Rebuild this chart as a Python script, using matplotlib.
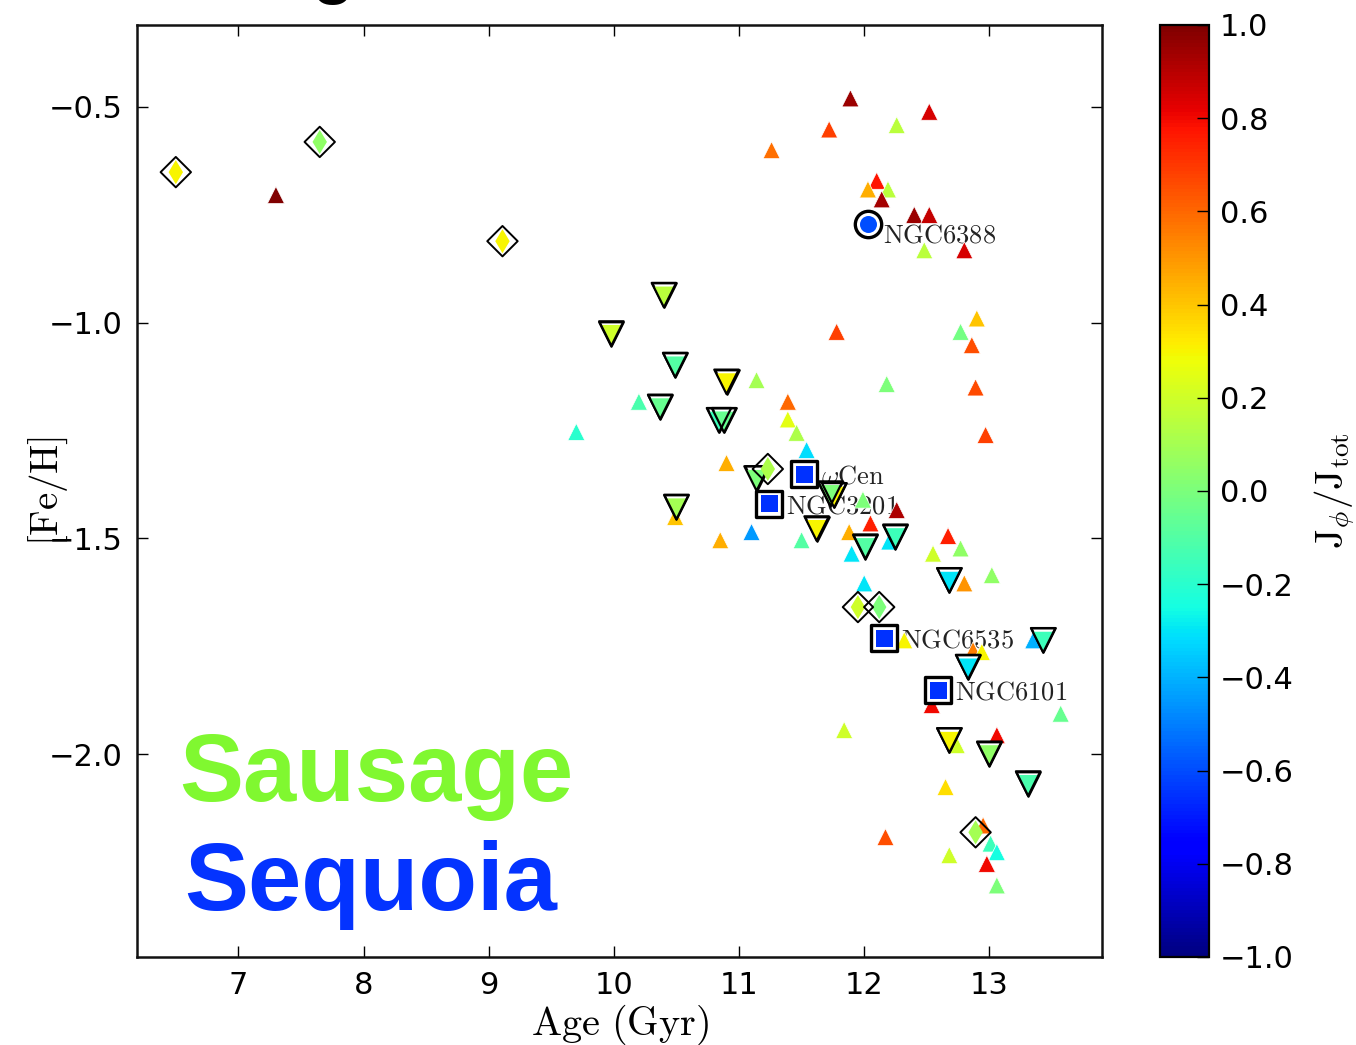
import numpy as np
import matplotlib
matplotlib.use("Agg")
import matplotlib.pyplot as plt
from matplotlib.colors import Normalize
from matplotlib.path import Path
from matplotlib.markers import MarkerStyle

plt.rcParams["mathtext.fontset"] = "cm"
plt.rcParams["font.family"] = ["DejaVu Sans"]

# ---- globular clusters: age (Gyr), [Fe/H], J_phi/J_tot ----
# in-situ / other clusters (small filled triangles)
tri_age = [7.30, 11.89, 12.52, 11.72, 12.26, 11.26, 12.10, 12.03, 12.19, 12.14,
           12.40, 12.52, 12.48, 12.80, 11.78, 12.77, 12.90, 12.86, 12.18, 12.89,
           12.97, 11.14, 10.20, 9.70, 11.39, 11.39, 11.46, 11.54, 10.90, 10.85,
           11.10, 11.50, 11.88, 12.05, 11.90, 12.26, 11.99, 12.20, 12.67, 12.55,
           12.77, 13.02, 12.80, 12.00, 12.32, 13.35, 12.87, 12.94, 12.54, 13.57,
           11.84, 13.06, 12.74, 12.65, 12.17, 12.95, 13.01, 13.06, 12.68, 12.98,
           13.06, 10.49]
tri_feh = [-0.704, -0.480, -0.511, -0.552, -0.542, -0.600, -0.671, -0.691, -0.691, -0.714,
           -0.750, -0.750, -0.832, -0.832, -1.021, -1.021, -0.990, -1.052, -1.142, -1.150,
           -1.260, -1.133, -1.183, -1.253, -1.183, -1.224, -1.255, -1.295, -1.325, -1.504,
           -1.485, -1.504, -1.485, -1.465, -1.535, -1.434, -1.410, -1.507, -1.494, -1.535,
           -1.523, -1.585, -1.604, -1.604, -1.736, -1.736, -1.759, -1.763, -1.886, -1.906,
           -1.944, -1.956, -1.979, -2.076, -2.192, -2.165, -2.207, -2.227, -2.234, -2.254,
           -2.304, -1.450]
tri_j = [1.00, 0.95, 0.85, 0.68, 0.15, 0.58, 0.78, 0.45, 0.15, 0.93,
         0.95, 0.88, 0.15, 0.85, 0.68, -0.02, 0.40, 0.65, 0.00, 0.66,
         0.68, 0.10, -0.12, -0.20, 0.60, 0.25, 0.12, -0.32, 0.45, 0.45,
         -0.45, -0.10, 0.45, 0.75, -0.30, 0.92, 0.00, -0.30, 0.75, 0.20,
         0.05, 0.05, 0.50, -0.30, 0.30, -0.40, 0.55, 0.30, 0.80, -0.05,
         0.20, 0.80, 0.20, 0.35, 0.65, 0.60, -0.15, -0.25, 0.20, 0.80,
         0.00, 0.40]

# Sausage clusters (open down triangles)
sau_age = [10.40, 9.98, 10.49, 10.90, 10.37, 10.84, 10.88, 10.50, 11.14, 11.76,
           11.73, 11.62, 12.01, 12.25, 12.68, 13.43, 12.83, 12.68, 13.00, 13.31]
sau_feh = [-0.936, -1.025, -1.098, -1.137, -1.195, -1.226, -1.226, -1.427, -1.361, -1.400,
           -1.396, -1.477, -1.519, -1.496, -1.597, -1.736, -1.798, -1.968, -1.999, -2.068]
sau_j = [0.15, 0.20, -0.10, 0.30, -0.05, -0.15, -0.05, 0.10, 0.00, 0.30,
         0.00, 0.30, -0.10, -0.15, -0.30, -0.15, -0.30, 0.30, 0.05, -0.12]

# Sagittarius-type clusters (open diamonds)
dia_age = [6.50, 7.65, 9.11, 11.23, 11.95, 12.12, 12.89]
dia_feh = [-0.651, -0.581, -0.811, -1.339, -1.659, -1.659, -2.181]
dia_j = [0.30, 0.05, 0.30, 0.12, 0.20, 0.00, 0.10]

# Sequoia clusters (squares) and the circled one
seq_names = [r"$\omega\mathrm{Cen}$", r"$\mathrm{NGC3201}$",
             r"$\mathrm{NGC6535}$", r"$\mathrm{NGC6101}$"]
seq_age = [11.52, 11.24, 12.16, 12.59]
seq_feh = [-1.351, -1.420, -1.731, -1.852]
seq_j = [-0.65, -0.65, -0.65, -0.65]

circ_name = r"$\mathrm{NGC6388}$"
circ_age = [12.03]
circ_feh = [-0.771]
circ_j = [-0.60]

x_ticks = [7, 8, 9, 10, 11, 12, 13]
y_ticks = [-2.0, -1.5, -1.0, -0.5]
cbar_ticks = [-1.0, -0.8, -0.6, -0.4, -0.2, 0.0, 0.2, 0.4, 0.6, 0.8, 1.0]

W, H = 1356, 1045
fig = plt.figure(figsize=(W / 100, H / 100), dpi=100)
ax = fig.add_axes([137 / W, 1 - 957 / H, 965 / W, 932 / H])
cax = fig.add_axes([1160 / W, 1 - 957 / H, 49 / W, 932 / H])

cmap = plt.get_cmap("jet")
norm = Normalize(vmin=-1, vmax=1)

# small triangles
sc = ax.scatter(tri_age, tri_feh, c=tri_j, cmap=cmap, norm=norm, marker="^",
                s=150, edgecolors="white", linewidths=0.5, zorder=2)

# down triangles: black outline, coloured fill sitting low inside it
inner_v = Path([(-0.80, 0.70), (0.80, 0.70), (0.0, -1.0), (-0.80, 0.70)],
               [Path.MOVETO, Path.LINETO, Path.LINETO, Path.CLOSEPOLY])
ax.scatter(sau_age, sau_feh, marker="v", s=310, facecolors="white",
           edgecolors="black", linewidths=1.6, zorder=3)
ax.scatter(sau_age, sau_feh, c=sau_j, cmap=cmap, norm=norm,
           marker=MarkerStyle(inner_v), s=310, linewidths=0, zorder=3.1)
ax.scatter(sau_age, sau_feh, marker="v", s=310, facecolors="none",
           edgecolors="black", linewidths=1.6, zorder=3.2)

# diamonds: thin coloured diamond inside an open black diamond
ax.scatter(dia_age, dia_feh, c=dia_j, cmap=cmap, norm=norm, marker="d",
           s=150, linewidths=0, zorder=4)
ax.scatter(dia_age, dia_feh, marker="D", s=240, facecolors="none",
           edgecolors="black", linewidths=1.4, zorder=4.1)

# squares
ax.scatter(seq_age, seq_feh, marker="s", s=330, facecolors="white",
           edgecolors="black", linewidths=2.4, zorder=5)
ax.scatter(seq_age, seq_feh, c=seq_j, cmap=cmap, norm=norm, marker="s",
           s=150, linewidths=0, zorder=5.1)

# circle
ax.scatter(circ_age, circ_feh, marker="o", s=360, facecolors="white",
           edgecolors="black", linewidths=2.4, zorder=5)
ax.scatter(circ_age, circ_feh, c=circ_j, cmap=cmap, norm=norm, marker="o",
           s=150, linewidths=0, zorder=5.1)

for name, a, f in zip(seq_names, seq_age, seq_feh):
    ax.annotate(name, (a, f), xytext=(12, -1.5), textcoords="offset points",
                ha="left", va="center", fontsize=19, color="#222222", zorder=1.5)
ax.annotate(circ_name, (circ_age[0], circ_feh[0]), xytext=(11, -8),
            textcoords="offset points", ha="left", va="center", fontsize=19,
            color="#222222", zorder=1.5)

ax.set_xlim(6.19, 13.90)
ax.set_ylim(-2.47, -0.31)
ax.set_xticks(x_ticks)
ax.set_yticks(y_ticks)
ax.tick_params(direction="in", top=True, right=True, length=8, width=1.0,
               labelsize=22, pad=10)
for sp in ax.spines.values():
    sp.set_linewidth(1.8)
    sp.set_color("#111111")

ax.set_xlabel(r"$\mathrm{Age\ (Gyr)}$", fontsize=29)
ax.xaxis.set_label_coords(0.5, -0.049)
ax.set_ylabel(r"$\mathrm{[Fe/H]}$", fontsize=28)
ax.yaxis.set_label_coords(-0.069, 0.5)

ax.text(0.044, 0.167, "Sausage", transform=ax.transAxes, ha="left",
        va="baseline", fontsize=69, fontweight="bold", color="#80F830",
        family="Liberation Sans", zorder=6)
ax.text(0.049, 0.050, "Sequoia", transform=ax.transAxes, ha="left",
        va="baseline", fontsize=69, fontweight="bold", color="#0433FF",
        family="Liberation Sans", zorder=6)

fig.text(333 / W, 1 + 12 / H, "g", ha="center", va="baseline", fontsize=58,
         family="Liberation Sans", color="black")

cb = fig.colorbar(sc, cax=cax, ticks=cbar_ticks)
cb.outline.set_linewidth(1.6)
cax.tick_params(direction="in", length=9, width=1.0, labelsize=22, pad=8)
cb.set_label(r"$\mathrm{J_\phi/J_{tot}}$", fontsize=28)
cax.yaxis.set_label_coords(3.1, 0.5)

fig.savefig("out.png", dpi=100)
